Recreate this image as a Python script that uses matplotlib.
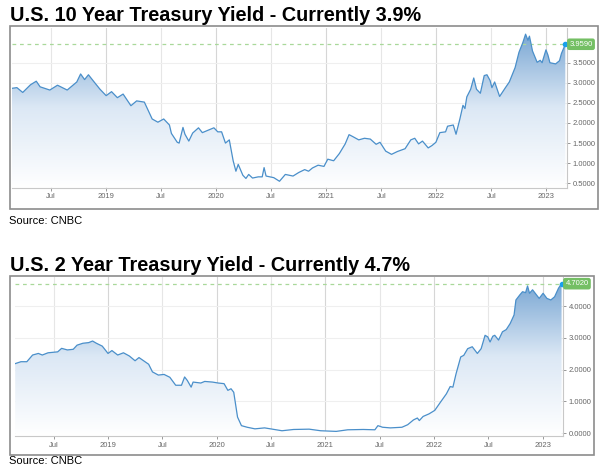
import matplotlib
matplotlib.use('Agg')
import matplotlib.pyplot as plt
import numpy as np
from matplotlib.colors import LinearSegmentedColormap
from matplotlib.patches import Rectangle

W, H = 606, 467
plt.rcParams['font.family'] = ['Liberation Sans', 'DejaVu Sans']

# 10 year yield (decimal year, percent)
t10 = [2018.137, 2018.189, 2018.242, 2018.312, 2018.365, 2018.40, 2018.488, 2018.558,
       2018.646, 2018.733, 2018.768, 2018.804, 2018.839, 2018.891, 2018.944, 2019.0,
       2019.049, 2019.102, 2019.154, 2019.225, 2019.277, 2019.347, 2019.418, 2019.470,
       2019.523, 2019.575, 2019.593, 2019.646, 2019.663, 2019.698, 2019.716, 2019.751,
       2019.786, 2019.839, 2019.874, 2019.926, 2019.979, 2020.014, 2020.049, 2020.084,
       2020.119, 2020.154, 2020.179, 2020.20, 2020.242, 2020.270, 2020.295, 2020.330,
       2020.382, 2020.418, 2020.435, 2020.453, 2020.523, 2020.575, 2020.628, 2020.698,
       2020.751, 2020.804, 2020.839, 2020.874, 2020.926, 2020.979, 2021.014, 2021.067,
       2021.119, 2021.172, 2021.207, 2021.242, 2021.295, 2021.347, 2021.40, 2021.453,
       2021.488, 2021.540, 2021.593, 2021.646, 2021.716, 2021.768, 2021.804, 2021.839,
       2021.874, 2021.926, 2021.961, 2021.996, 2022.032, 2022.084, 2022.102, 2022.154,
       2022.179, 2022.214, 2022.242, 2022.260, 2022.277, 2022.312, 2022.340, 2022.365,
       2022.40, 2022.435, 2022.460, 2022.488, 2022.505, 2022.530, 2022.575, 2022.628,
       2022.663, 2022.716, 2022.751, 2022.786, 2022.811, 2022.832, 2022.846, 2022.874,
       2022.916, 2022.944, 2022.961, 2022.996, 2023.014, 2023.032, 2023.084, 2023.119,
       2023.137, 2023.172]
y10 = [2.86, 2.88, 2.76, 2.95, 3.04, 2.90, 2.82, 2.94,
       2.82, 3.02, 3.22, 3.08, 3.20, 3.02, 2.84, 2.68,
       2.78, 2.63, 2.72, 2.43, 2.55, 2.52, 2.10, 2.02,
       2.10, 1.95, 1.74, 1.52, 1.50, 1.89, 1.72, 1.55,
       1.75, 1.88, 1.76, 1.82, 1.88, 1.78, 1.78, 1.50,
       1.58, 1.06, 0.80, 0.97, 0.70, 0.62, 0.72, 0.63,
       0.66, 0.66, 0.89, 0.68, 0.64, 0.55, 0.72, 0.68,
       0.77, 0.84, 0.80, 0.88, 0.95, 0.92, 1.10, 1.06,
       1.24, 1.48, 1.71, 1.66, 1.58, 1.62, 1.60, 1.47,
       1.52, 1.30, 1.22, 1.29, 1.36, 1.58, 1.62, 1.48,
       1.55, 1.38, 1.44, 1.52, 1.76, 1.78, 1.92, 1.95,
       1.72, 2.10, 2.44, 2.36, 2.65, 2.84, 3.12, 2.84,
       2.74, 3.18, 3.20, 3.06, 2.88, 3.02, 2.66, 2.88,
       3.02, 3.38, 3.76, 4.00, 4.21, 4.06, 4.16, 3.79,
       3.51, 3.56, 3.50, 3.82, 3.69, 3.50, 3.47, 3.55,
       3.73, 3.959]
current10 = 3.959

# 2 year yield
t2 = [2018.146, 2018.199, 2018.253, 2018.306, 2018.359, 2018.395, 2018.448, 2018.537,
      2018.573, 2018.626, 2018.680, 2018.715, 2018.769, 2018.822, 2018.858, 2018.893,
      2018.947, 2019.0, 2019.036, 2019.089, 2019.142, 2019.196, 2019.249, 2019.285,
      2019.374, 2019.409, 2019.463, 2019.516, 2019.569, 2019.623, 2019.676, 2019.705,
      2019.730, 2019.765, 2019.783, 2019.854, 2019.890, 2019.961, 2020.014, 2020.068,
      2020.103, 2020.132, 2020.157, 2020.192, 2020.228, 2020.281, 2020.352, 2020.441,
      2020.495, 2020.601, 2020.708, 2020.851, 2020.957, 2021.100, 2021.206, 2021.349,
      2021.456, 2021.484, 2021.527, 2021.598, 2021.705, 2021.758, 2021.811, 2021.847,
      2021.865, 2021.900, 2021.954, 2022.007, 2022.060, 2022.114, 2022.149, 2022.174,
      2022.203, 2022.246, 2022.274, 2022.310, 2022.352, 2022.399, 2022.434, 2022.470,
      2022.495, 2022.516, 2022.541, 2022.559, 2022.594, 2022.630, 2022.665, 2022.701,
      2022.737, 2022.754, 2022.790, 2022.815, 2022.843, 2022.861, 2022.879, 2022.907,
      2022.943, 2022.968, 2023.004, 2023.039, 2023.075, 2023.110, 2023.146, 2023.174]
y2 = [2.19, 2.25, 2.25, 2.46, 2.51, 2.46, 2.53, 2.56,
      2.67, 2.62, 2.64, 2.77, 2.83, 2.85, 2.90, 2.83,
      2.74, 2.51, 2.60, 2.46, 2.53, 2.43, 2.28, 2.38,
      2.17, 1.93, 1.83, 1.85, 1.76, 1.51, 1.51, 1.77,
      1.66, 1.45, 1.61, 1.58, 1.63, 1.61, 1.58, 1.56,
      1.35, 1.40, 1.29, 0.51, 0.24, 0.19, 0.14, 0.17,
      0.14, 0.08, 0.12, 0.13, 0.08, 0.06, 0.11, 0.12,
      0.11, 0.24, 0.19, 0.17, 0.19, 0.27, 0.42, 0.48,
      0.40, 0.53, 0.61, 0.72, 0.98, 1.24, 1.47, 1.45,
      1.87, 2.40, 2.45, 2.66, 2.72, 2.51, 2.66, 3.08,
      3.03, 2.87, 3.05, 3.08, 2.93, 3.19, 3.26, 3.45,
      3.72, 4.19, 4.35, 4.45, 4.42, 4.63, 4.40, 4.51,
      4.35, 4.24, 4.40, 4.24, 4.19, 4.29, 4.56, 4.702]
current2 = 4.702

xticks = [2018.5, 2019, 2019.5, 2020, 2020.5, 2021, 2021.5, 2022, 2022.5, 2023]
xlabels = ['Jul', '2019', 'Jul', '2020', 'Jul', '2021', 'Jul', '2022', 'Jul', '2023']

fill_cmap = LinearSegmentedColormap.from_list('fade', ['#ffffff', '#dce8f5', '#72a2d1'])


def px_rect(x0, y0, x1, y1):
    return [x0 / W, 1 - y1 / H, (x1 - x0) / W, (y1 - y0) / H]


def panel(fig, t, y, cur, ax_px, box_px, xlim, ylim, yticks, title, title_y, src_y, src_va):
    ax = fig.add_axes(px_rect(*ax_px))
    ax.set_xlim(*xlim)
    ax.set_ylim(*ylim)

    # grid
    for i, xt in enumerate(xticks):
        ax.axvline(xt, color='#e6e6e6' if xlabels[i] == 'Jul' else '#d6d6d6', lw=0.8, zorder=0)
    for yt in yticks:
        ax.axhline(yt, color='#efefef', lw=0.8, zorder=0)

    # gradient area under the line
    fill = ax.fill_between(t, y, ylim[0], facecolor='none', edgecolor='none')
    grad = np.linspace(1, 0, 256).reshape(-1, 1)
    im = ax.imshow(grad, extent=[xlim[0], xlim[1], ylim[0], ylim[1]], aspect='auto',
                   cmap=fill_cmap, vmin=0, vmax=1, zorder=1, origin='upper')
    im.set_clip_path(fill.get_paths()[0], ax.transData)
    ax.plot(t, y, color='#4a8fca', lw=0.9, zorder=3)

    ax.axhline(cur, color='#a9d89a', lw=0.9, ls=(0, (3, 3)), zorder=2)
    ax.plot([t[-1]], [cur], 'o', color='#18a0ec', ms=3, zorder=5, clip_on=False)
    ax.annotate(f'{cur:.4f}', xy=(1, cur), xycoords=('axes fraction', 'data'),
                xytext=(1.5, 0), textcoords='offset points', ha='left', va='center',
                fontsize=5.5, color='white', zorder=6,
                bbox=dict(boxstyle='round,pad=0.3,rounding_size=0.3', fc='#74bf64', ec='none'))

    ax.set_xticks(xticks)
    ax.set_xticklabels(xlabels)
    ax.yaxis.tick_right()
    ax.set_yticks(yticks)
    ax.set_yticklabels([f'{v:.4f}' for v in yticks])
    ax.tick_params(axis='both', labelsize=5.5, colors='#888888', labelcolor='#666666',
                   length=2.5, width=0.6, pad=1.5)
    for side in ['top', 'left']:
        ax.spines[side].set_visible(False)
    ax.spines['bottom'].set_color('#c8c8c8')
    ax.spines['right'].set_color('#c8c8c8')
    ax.spines['bottom'].set_linewidth(0.8)
    ax.spines['right'].set_linewidth(0.8)

    x0, y0, x1, y1 = box_px
    fig.patches.append(Rectangle((x0 / W, 1 - y1 / H), (x1 - x0) / W, (y1 - y0) / H,
                                 transform=fig.transFigure, fill=False,
                                 edgecolor='#8c8c8c', lw=1.2, zorder=10))
    fig.text(10 / W, 1 - title_y / H, title, fontsize=14.3, fontweight='bold',
             ha='left', va='baseline', color='black')
    fig.text(9 / W, 1 - src_y / H, 'Source: CNBC', fontsize=8.0, ha='left', va=src_va,
             color='black')
    return ax


fig = plt.figure(figsize=(W / 100, H / 100), dpi=100)

panel(fig, t10, y10, current10, (11.5, 27.5, 567.3, 187.7), (9.5, 26.5, 597.5, 209),
      (2018.14, 2023.19), (0.39, 4.376), [0.5, 1.0, 1.5, 2.0, 2.5, 3.0, 3.5],
      'U.S. 10 Year Treasury Yield - Currently 3.9%', 20.7, 223.5, 'baseline')

panel(fig, t2, y2, current2, (15, 277, 563.3, 436), (10, 275.5, 593.5, 455),
      (2018.144, 2023.19), (-0.085, 4.912), [0.0, 1.0, 2.0, 3.0, 4.0],
      'U.S. 2 Year Treasury Yield - Currently 4.7%', 271, 456.5, 'top')

fig.savefig('out.png', dpi=100)
